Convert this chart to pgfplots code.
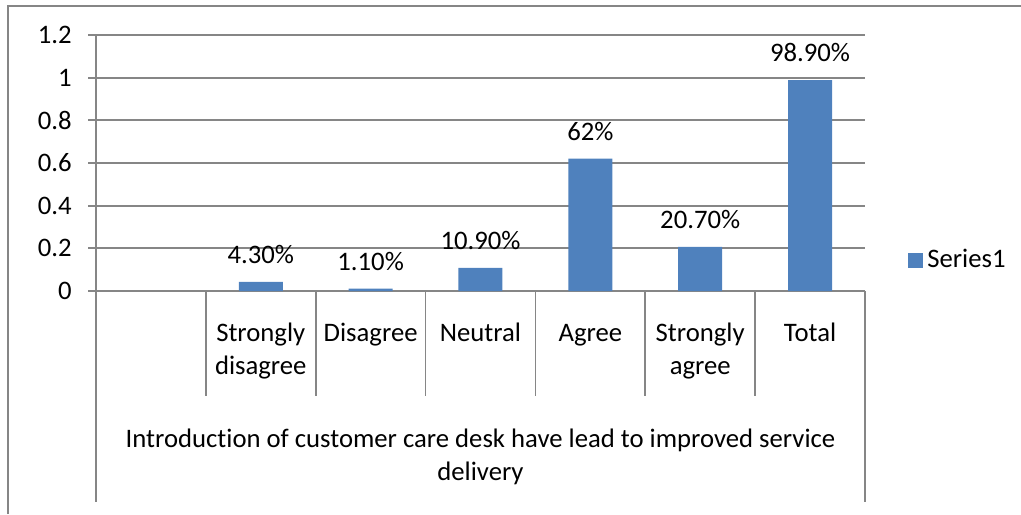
\documentclass[border=0pt]{standalone}
\usepackage{pgfplots}
\pgfplotsset{compat=1.18}
\usepackage{fontspec}
\setmainfont{Carlito}[Ligatures=NoCommon]
\definecolor{barblue}{HTML}{4F81BD}
\definecolor{gridgray}{HTML}{868686}
\newcommand\cf{\fontsize{13.35}{16.5}\selectfont}
\pgfplotstableread{
x y lab
1 0.043 4.30
2 0.011 1.10
3 0.109 10.90
4 0.62 62
5 0.207 20.70
6 0.989 98.90
}\datatable
\begin{document}
\cf
\begin{tikzpicture}
\useasboundingbox (0,0) rectangle (510.5pt,-257pt);
\draw[gridgray, line width=1.2pt] (4pt,-257pt) -- (4pt,-3pt) -- (510.5pt,-3pt);
\begin{axis}[
  at={(48pt,-145.5pt)}, anchor=south west,
  scale only axis, width=384.5pt, height=128pt,
  xmin=-0.5, xmax=6.5, ymin=0, ymax=1.2,
  clip=false,
  axis x line*=bottom, axis y line*=left,
  axis line style={draw=gridgray, line width=0.9pt, -},
  ytick={0,0.2,0.4,0.6,0.8,1,1.2},
  yticklabels={0,0.2,0.4,0.6,0.8,1,1.2},
  yticklabel style={xshift=-3.5pt},
  ymajorgrids, grid style={draw=gridgray, line width=0.9pt},
  tick align=outside,
  ytick style={draw=gridgray, line width=0.9pt},
  major tick length=4pt,
  xtick=\empty,
  tick label style={font=\cf},
  /pgf/number format/assume math mode=true,
  legend style={at={(axis description cs:1.0559,0.119)}, anchor=west, draw=none, fill=none, inner sep=0pt, font=\cf},
  legend image code/.code={\fill[barblue] (0pt,-3.75pt) rectangle (7.5pt,3.75pt);},
]
\addplot[ybar, bar width=22pt, fill=barblue, draw=none,
  point meta=explicit symbolic,
  nodes near coords={\pgfplotspointmeta\%},
  nodes near coords style={anchor=base, yshift=9.25pt, font=\cf, text=black}]
  table[x=x, y=y, meta=lab] {\datatable};
\addlegendentry{Series1}
\pgfplotsinvokeforeach{0.5,1.5,2.5,3.5,4.5,5.5}{
  \draw[gridgray, line width=0.9pt] (axis cs:#1,0) -- ++(0pt,-52.5pt);
}
\pgfplotsinvokeforeach{-0.5,6.5}{
  \draw[gridgray, line width=0.9pt] (axis cs:#1,0) -- ++(0pt,-105.5pt);
}
\node[anchor=base, inner sep=0pt, font=\cf] at (axis cs:1,0) [yshift=-25.35pt] {\begin{tabular}[t]{@{}c@{}}Strongly\\disagree\end{tabular}};
\node[anchor=base, inner sep=0pt, font=\cf] at (axis cs:2,0) [yshift=-25.35pt] {\begin{tabular}[t]{@{}c@{}}Disagree\end{tabular}};
\node[anchor=base, inner sep=0pt, font=\cf] at (axis cs:3,0) [yshift=-25.35pt] {\begin{tabular}[t]{@{}c@{}}Neutral\end{tabular}};
\node[anchor=base, inner sep=0pt, font=\cf] at (axis cs:4,0) [yshift=-25.35pt] {\begin{tabular}[t]{@{}c@{}}Agree\end{tabular}};
\node[anchor=base, inner sep=0pt, font=\cf] at (axis cs:5,0) [yshift=-25.35pt] {\begin{tabular}[t]{@{}c@{}}Strongly\\agree\end{tabular}};
\node[anchor=base, inner sep=0pt, font=\cf] at (axis cs:6,0) [yshift=-25.35pt] {\begin{tabular}[t]{@{}c@{}}Total\end{tabular}};
\node[anchor=base, inner sep=0pt, font=\cf] at (axis cs:3,0) [yshift=-78pt] {\begin{tabular}[t]{@{}c@{}}Introduction of customer care desk have lead to improved service\\delivery\end{tabular}};
\end{axis}
\end{tikzpicture}
\end{document}
